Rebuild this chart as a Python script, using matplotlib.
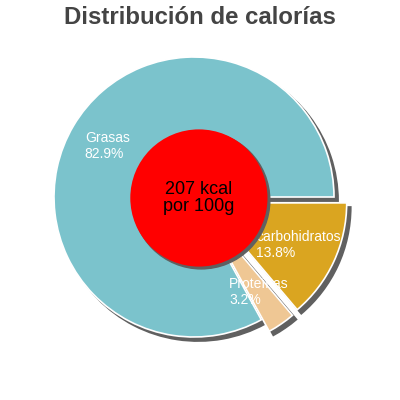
import matplotlib
matplotlib.use('Agg')
import matplotlib.pyplot as plt
import matplotlib.patches as mpatches

plt.rcParams['font.family'] = ['Liberation Sans', 'DejaVu Sans']

# data
labels = ['Grasas', 'Proteínas', 'carbohidratos']
values = [82.9, 3.2, 13.8]
colors = ['#7BC3CC', '#EFC794', '#DAA520']
explode = [0, 0.1, 0.1]
center_text = '207 kcal\npor 100g'
title = 'Distribución de calorías'

fig = plt.figure(figsize=(4, 4), dpi=100)
# pie of radius 140px centred at (194, 203) from bottom-left
r_px = 140
lim = 1.3
size = 2 * lim * r_px
ax = fig.add_axes([(194 - size / 2) / 400, (203 - size / 2) / 400, size / 400, size / 400])

shadow_style = dict(ox=0.021, oy=-0.021, facecolor='#606060',
                    edgecolor='#606060', alpha=1)

pie_labels = [f'{l}\n{v}%' for l, v in zip(labels, values)]
wedges, texts = ax.pie(values, labels=pie_labels, colors=colors, explode=explode,
                       startangle=0, counterclock=True, labeldistance=0.72,
                       shadow=shadow_style,
                       wedgeprops=dict(edgecolor='white', linewidth=1.2),
                       textprops=dict(color='white', fontsize=10, ha='center',
                                      va='center', multialignment='left'))

circle = mpatches.Circle((0.035, -0.007), 0.49, facecolor='#FF0000',
                         edgecolor='none', zorder=5)
ax.add_patch(circle)
# thinner shadow for the centre disc
circle_shadow = mpatches.Shadow(circle, ox=0.012, oy=-0.012, facecolor='#606060',
                                edgecolor='#606060', alpha=1)
circle_shadow.set_zorder(4.9)
ax.add_patch(circle_shadow)
ax.text(0.035, -0.007, center_text, ha='center', va='center', fontsize=13,
        color='black', zorder=6, linespacing=1.0)

ax.set_xlim(-lim, lim)
ax.set_ylim(-lim, lim)
ax.set_aspect('equal')
ax.axis('off')

fig.text(0.5, 0.955, title, ha='center', va='center', fontsize=17.3,
         fontweight='bold', color='#444444')

fig.savefig('out.png', dpi=100)
